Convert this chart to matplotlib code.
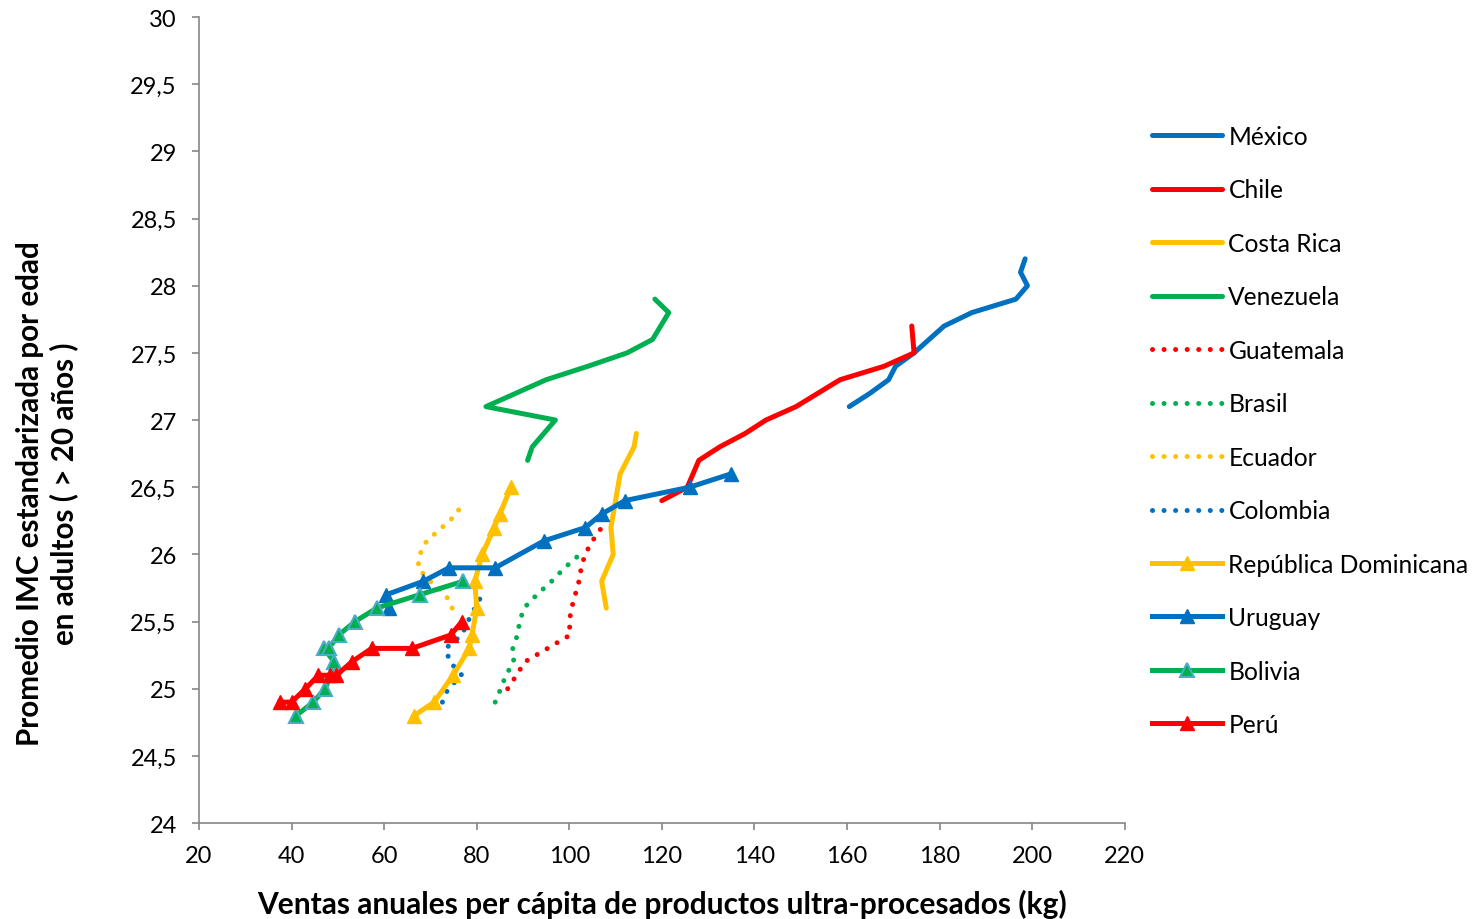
import matplotlib
matplotlib.use("Agg")
import matplotlib.pyplot as plt
from matplotlib.ticker import FuncFormatter

plt.rcParams['font.family'] = ['Lato', 'DejaVu Sans']

# datos (x: kg per capita, y: IMC)
mexico_x = [160.5, 165, 169, 170.5, 174.5, 181, 187, 196.5, 199, 197.5, 198.5]
mexico_y = [27.1, 27.2, 27.3, 27.4, 27.5, 27.7, 27.8, 27.9, 28.0, 28.1, 28.2]

chile_x = [120, 125.5, 128, 132.5, 138, 142.5, 149, 158.5, 168, 174.5, 174]
chile_y = [26.4, 26.5, 26.7, 26.8, 26.9, 27.0, 27.1, 27.3, 27.4, 27.5, 27.7]

costarica_x = [108, 107, 109.5, 109, 110, 111, 114, 114.5]
costarica_y = [25.6, 25.8, 26.0, 26.2, 26.4, 26.6, 26.8, 26.9]

venezuela_x = [91, 92, 97, 82, 95, 104, 112.5, 118, 121.5, 118.5]
venezuela_y = [26.7, 26.8, 27.0, 27.1, 27.3, 27.4, 27.5, 27.6, 27.8, 27.9]

guatemala_x = [86.7, 88.6, 90.4, 95.3, 100.2, 100, 100.5, 101.3, 102.1, 102.6, 103.4, 105, 107]
guatemala_y = [25.0, 25.1, 25.2, 25.3, 25.4, 25.5, 25.6, 25.7, 25.8, 25.9, 26.0, 26.1, 26.2]

brasil_x = [84, 85.2, 86.3, 88, 87.8, 88.8, 89.3, 90.2, 93, 96.2, 99, 102.3]
brasil_y = [24.9, 25.0, 25.1, 25.2, 25.3, 25.4, 25.5, 25.6, 25.7, 25.8, 25.9, 26.0]

ecuador_x = [74.7, 73.3, 69.9, 67.3, 67.7, 69.2, 72.5, 75.7, 77.0]
ecuador_y = [25.6, 25.7, 25.8, 25.9, 26.0, 26.1, 26.2, 26.3, 26.4]

colombia_x = [72.6, 73.8, 76.8, 74.2, 73.3, 76.8, 78.1, 79.6, 81.2]
colombia_y = [24.9, 25.0, 25.1, 25.2, 25.3, 25.4, 25.5, 25.6, 25.7]

repdom_x = [66.5, 70.8, 74.9, 78.4, 79, 80, 79.6, 81.2, 83.8, 85, 87.4]
repdom_y = [24.8, 24.9, 25.1, 25.3, 25.4, 25.6, 25.8, 26.0, 26.2, 26.3, 26.5]

uruguay_x = [61, 60.5, 68.5, 74, 84, 94.5, 103.5, 107, 112, 126, 135]
uruguay_y = [25.6, 25.7, 25.8, 25.9, 25.9, 26.1, 26.2, 26.3, 26.4, 26.5, 26.6]

bolivia_x = [41, 44.7, 47.2, 48.5, 49.2, 47, 48, 50.2, 53.7, 58.4, 67.7, 77.1]
bolivia_y = [24.8, 24.9, 25.0, 25.1, 25.2, 25.3, 25.3, 25.4, 25.5, 25.6, 25.7, 25.8]

peru_x = [37.5, 40, 43, 45.8, 48.3, 49.7, 53, 57.3, 66, 74.4, 76.8]
peru_y = [24.9, 24.9, 25.0, 25.1, 25.1, 25.1, 25.2, 25.3, 25.3, 25.4, 25.5]

azul = '#0070C0'
rojo = '#FF0000'
amarillo = '#FFC000'
verde = '#00B050'

fig = plt.figure(figsize=(14.74, 9.2), dpi=100)
ax = fig.add_axes([0.135, 0.1043, 0.628, 0.8761])

lw = 3.6
punteado = (0, (0.01, 2.3))

ax.plot(mexico_x, mexico_y, color=azul, lw=lw, solid_capstyle='round', solid_joinstyle='round', label='México')
ax.plot(chile_x, chile_y, color=rojo, lw=lw, solid_capstyle='round', solid_joinstyle='round', label='Chile')
ax.plot(costarica_x, costarica_y, color=amarillo, lw=lw, solid_capstyle='round', solid_joinstyle='round', label='Costa Rica')
ax.plot(venezuela_x, venezuela_y, color=verde, lw=lw, solid_capstyle='round', solid_joinstyle='round', label='Venezuela')

ax.plot(guatemala_x, guatemala_y, color=rojo, lw=lw, ls=punteado, dash_capstyle='round', label='Guatemala')
ax.plot(brasil_x, brasil_y, color=verde, lw=lw, ls=punteado, dash_capstyle='round', label='Brasil')
ax.plot(ecuador_x, ecuador_y, color=amarillo, lw=lw, ls=punteado, dash_capstyle='round', label='Ecuador')
ax.plot(colombia_x, colombia_y, color=azul, lw=lw, ls=punteado, dash_capstyle='round', label='Colombia')

ax.plot(repdom_x, repdom_y, color=amarillo, lw=lw, marker='^', ms=10, mec=amarillo, label='República Dominicana')
ax.plot(uruguay_x, uruguay_y, color=azul, lw=lw, marker='^', ms=10, mec=azul, label='Uruguay')
ax.plot(bolivia_x, bolivia_y, color=verde, lw=lw, marker='^', ms=10, mec='#4BACC6', mew=1.5, label='Bolivia')
ax.plot(peru_x, peru_y, color=rojo, lw=lw, marker='^', ms=10, mec=rojo, label='Perú')

ax.set_xlim(20, 220)
ax.set_ylim(24, 30)
ax.set_xticks(range(20, 221, 20))
ax.set_yticks([24 + 0.5 * i for i in range(13)])
ax.yaxis.set_major_formatter(FuncFormatter(lambda v, p: ('%g' % v).replace('.', ',')))

for s in ['top', 'right']:
    ax.spines[s].set_visible(False)
for s in ['left', 'bottom']:
    ax.spines[s].set_color('#868686')
    ax.spines[s].set_linewidth(1.2)
ax.tick_params(axis='both', direction='out', length=5, width=1.2, color='#868686', labelsize=17, pad=11)

ax.set_xlabel('Ventas anuales per cápita de productos ultra-procesados (kg)', fontsize=21.5, fontweight='bold')
ax.xaxis.set_label_coords(0.5, -0.082)
ax.set_ylabel('Promedio IMC estandarizada por edad\nen adultos ( > 20 años )', fontsize=21.3, fontweight='bold')
ax.yaxis.set_label_coords(-0.131, 0.41)

fig.legend(loc='upper left', bbox_to_anchor=(0.775, 0.874), frameon=False, fontsize=17.7,
           handlelength=2.85, handletextpad=0.25, labelspacing=1.24, borderaxespad=0)

fig.savefig('out.png', dpi=100)
